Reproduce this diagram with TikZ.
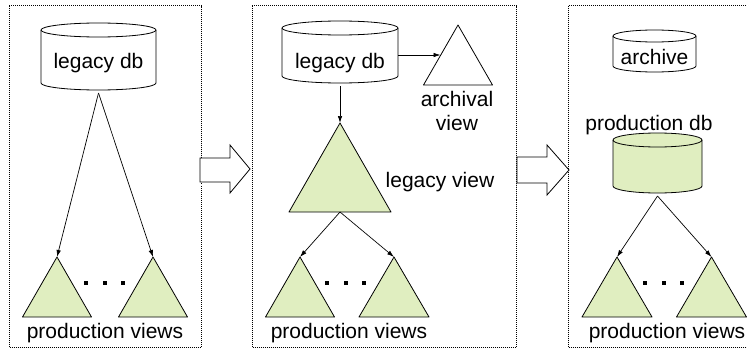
\documentclass[tikz,border=0pt]{standalone}
\usepackage{fontspec}
\setmainfont{Liberation Sans}
\usetikzlibrary{arrows.meta}
\definecolor{viewgreen}{RGB}{224,238,192}
\tikzset{
  panel/.style={line width=0.7pt, dash pattern=on 1pt off 1pt},
  conn/.style={line width=0.7pt, -{Latex[length=7pt,width=4.5pt]}},
  shapeline/.style={line width=0.8pt, line join=round},
  lbl/.style={inner sep=0pt, font=\fontsize{21}{24}\selectfont},
  fatarrow/.style={line width=0.8pt, fill=white, line join=miter},
  dotsq/.style={fill=black},
}
\newcommand{\dbcyl}[7]{% name, cx, ytop, ybot, hw, ry, fill
  \fill[#7] (#2-#5,#3+#6) -- (#2-#5,#4-#6) arc[start angle=180,end angle=0,x radius=#5,y radius=#6] -- (#2+#5,#3+#6) arc[start angle=0,end angle=-180,x radius=#5,y radius=#6] -- cycle;
  \draw[shapeline] (#2-#5,#3+#6) -- (#2-#5,#4-#6) arc[start angle=180,end angle=0,x radius=#5,y radius=#6] -- (#2+#5,#3+#6);
  \draw[shapeline] (#2,#3+#6) ellipse[x radius=#5,y radius=#6];
  \coordinate (#1-b) at (#2,#4+3);
  \coordinate (#1-c) at (#2,{(#3+#4)/2});
}
\newcommand{\tri}[6]{% name, apex x, apex y, base y, half width, fill
  \draw[shapeline, fill=#6] (#2,#3) -- (#2+#5,#4) -- (#2-#5,#4) -- cycle;
  \coordinate (#1-a) at (#2,#3);
  \coordinate (#1-base) at (#2,#4);
}
\newcommand{\threedots}[2]{% x of first, y
  \fill[dotsq] (#1-2,#2-2) rectangle (#1+2,#2+2);
  \fill[dotsq] (#1+16.5,#2-2) rectangle (#1+20.5,#2+2);
  \fill[dotsq] (#1+35,#2-2) rectangle (#1+39,#2+2);
}
\begin{document}
\begin{tikzpicture}[x=1pt,y=-1pt]
\useasboundingbox (0,0) rectangle (747,356);
% panels
\draw[panel] (9,5.5) rectangle (201,347);
\draw[panel] (252,5.5) rectangle (516,347);
\draw[panel] (760,5.5) -- (568,5.5) -- (568,347) -- (760,347);
% fat arrows
\draw[fatarrow] (200,158) -- (230,158) -- (230,145) -- (250,169) -- (230,193) -- (230,182) -- (200,182) -- cycle;
\draw[fatarrow] (517,157) -- (547,157) -- (547,145) -- (569,170) -- (547,195) -- (547,183) -- (517,183) -- cycle;

% ---------- panel 1
\dbcyl{db1}{98.5}{23}{90}{57.5}{7}{white}
\node[lbl] (db1t) at (98.5,63) {legacy db};
\tri{p1l}{57}{257}{317}{34.5}{viewgreen}
\tri{p1r}{153}{257}{317}{34.5}{viewgreen}
\threedots{86}{283}
\node[lbl] (pv1) at (105,333) {production views};
\draw[conn] (db1-b) -- (p1l-a);
\draw[conn] (db1-b) -- (p1r-a);

% ---------- panel 2
\dbcyl{db2}{340}{21}{83}{58}{7}{white}
\node[lbl] (db2t) at (340,63) {legacy db};
\tri{arch}{458}{25}{85}{34.5}{white}
\coordinate (archside) at (440.5,55);
\coordinate (db2r) at (398,55);
\node[lbl, align=center] (archt) at (457,111) {archival\\view};
\tri{lv}{340}{123}{212}{51}{viewgreen}
\node[lbl] (lvt) at (440,182) {legacy view};
\tri{p2l}{300}{257}{317}{34.5}{viewgreen}
\tri{p2r}{394}{257}{317}{35}{viewgreen}
\threedots{327}{283}
\node[lbl] (pv2) at (349,333) {production views};
\draw[conn] (db2-b) -- (lv-a);
\draw[conn] (db2r) -- (archside);
\draw[conn] (lv-base) -- (p2l-a);
\draw[conn] (lv-base) -- (p2r-a);

% ---------- panel 3
\dbcyl{arc3}{654.5}{30}{72}{41.5}{6}{white}
\node[lbl] (arct) at (654.5,57) {archive};
\node[lbl] (pdbt) at (649,125) {production db};
\dbcyl{pdb}{657.5}{133}{193}{44.5}{7}{viewgreen}
\tri{p3l}{617}{257}{317}{35}{viewgreen}
\tri{p3r}{711.5}{257}{317}{35}{viewgreen}
\threedots{645}{283}
\node[lbl] (pv3) at (667,333) {production views};
\draw[conn] (pdb-b) -- (p3l-a);
\draw[conn] (pdb-b) -- (p3r-a);
\end{tikzpicture}
\end{document}
